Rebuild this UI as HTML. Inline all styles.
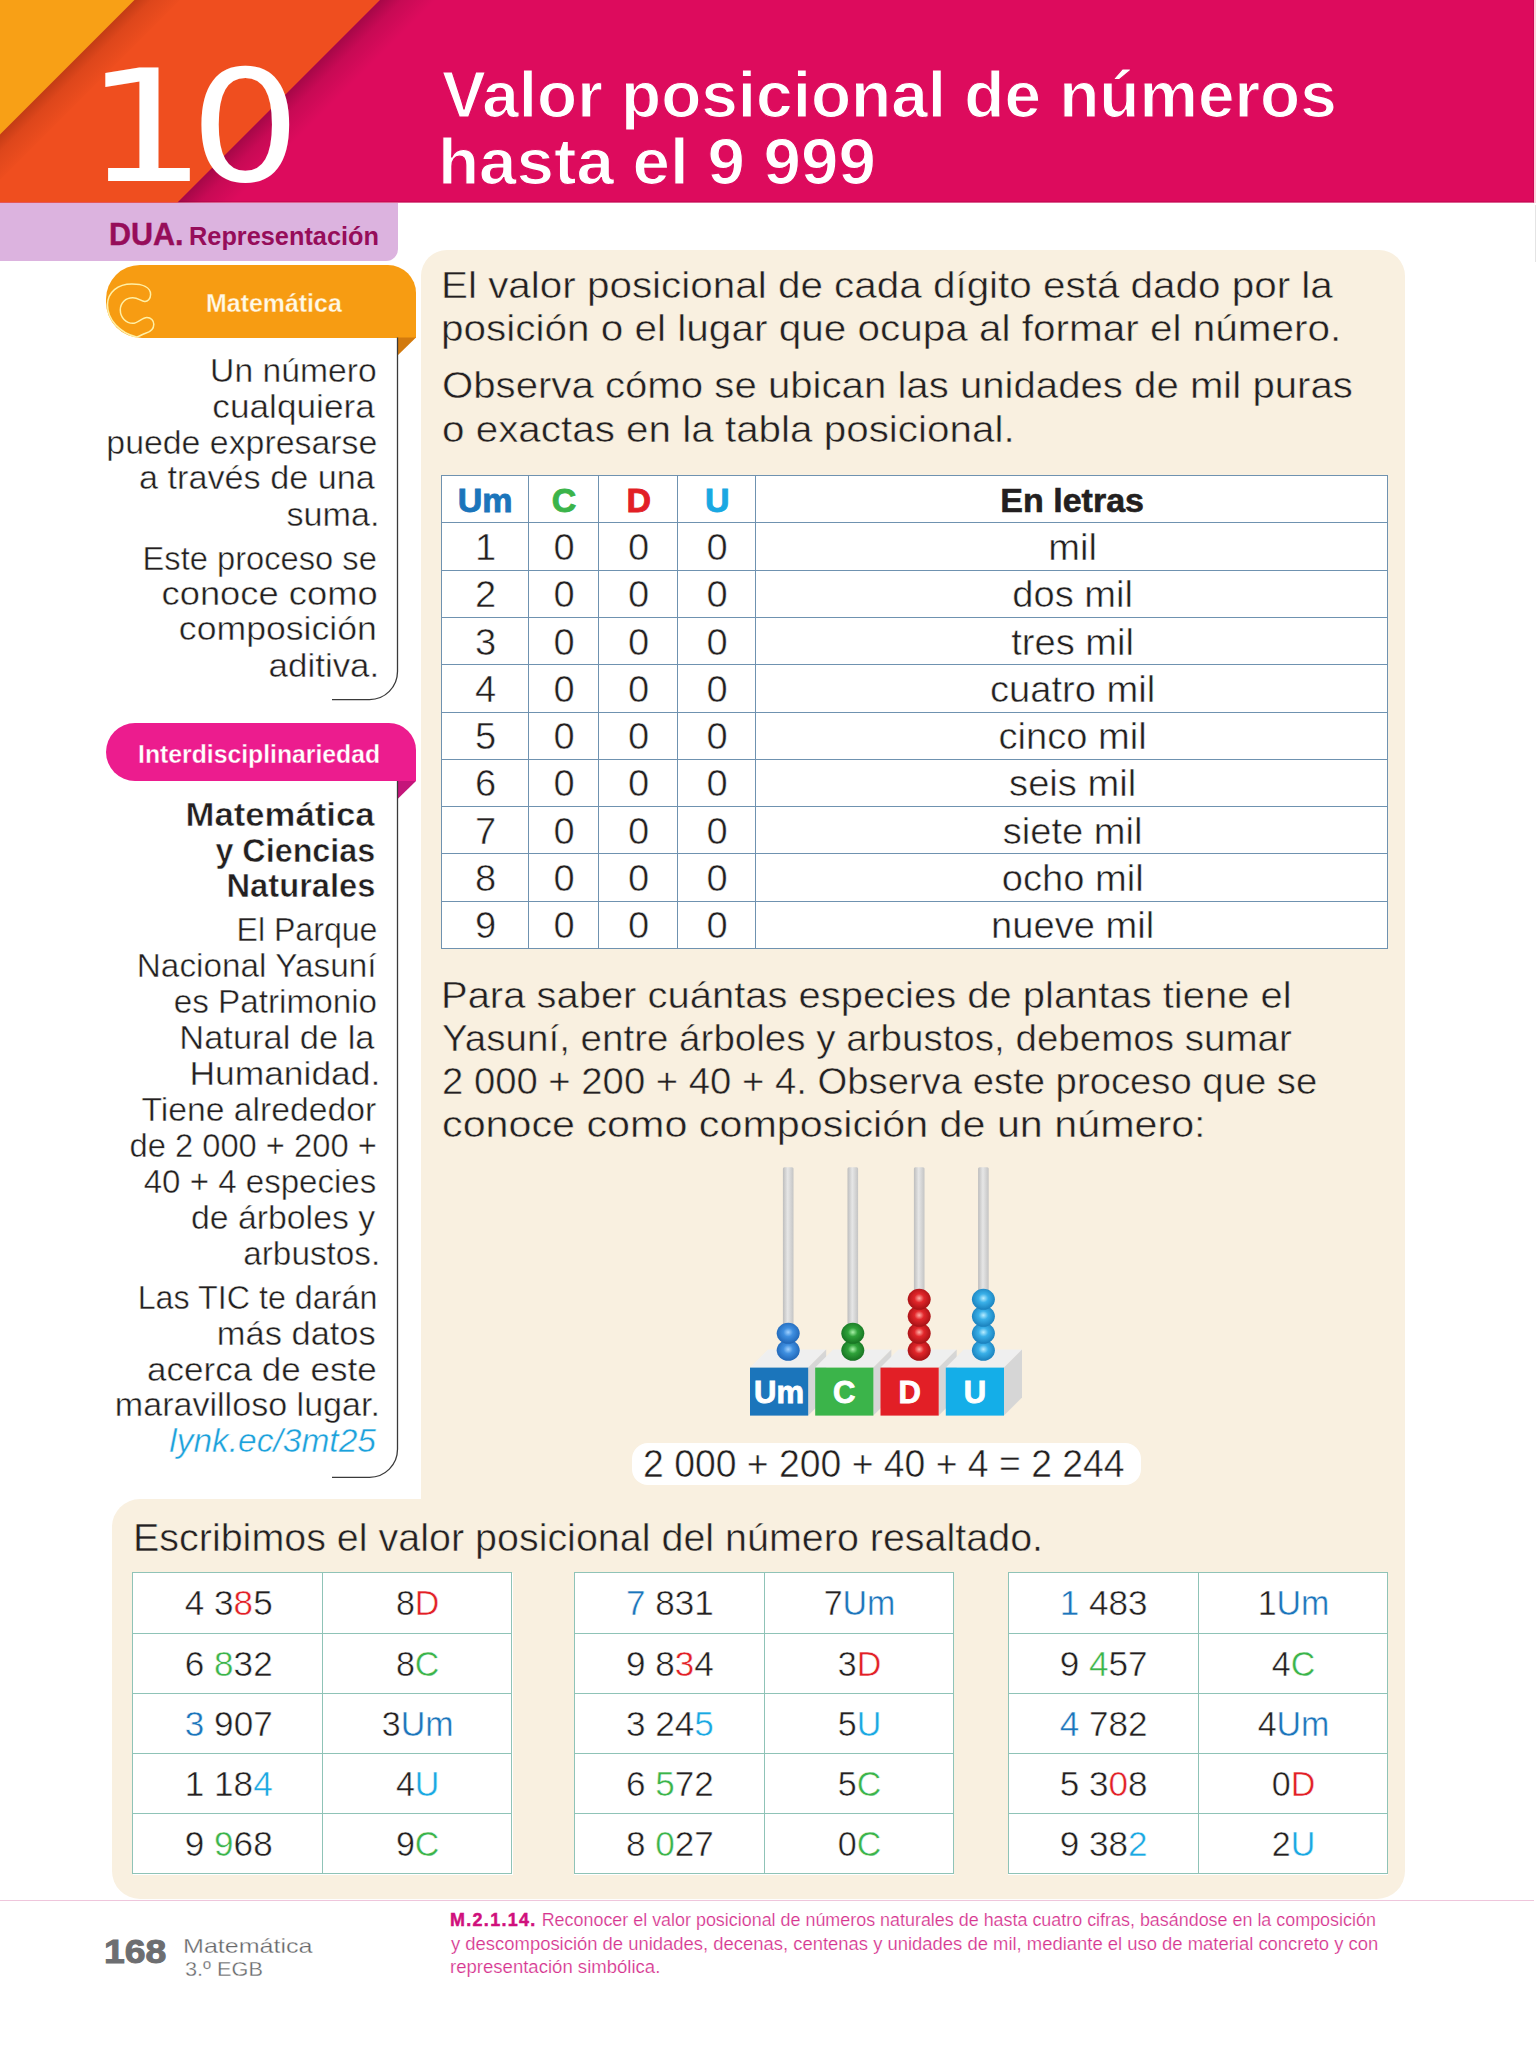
<!DOCTYPE html>
<html lang="es"><head><meta charset="utf-8"><title>Valor posicional de números hasta el 9 999</title>
<style>
html,body{margin:0;padding:0;background:#fff}
body{width:1536px;height:2048px;position:relative;overflow:hidden;font-family:'Liberation Sans', Arial, sans-serif;color:#231f20}
.t{position:absolute}
</style></head><body>
<svg style="position:absolute;left:0;top:0" width="1534" height="202.5" viewBox="0 0 1534 202.5">
<defs>
<linearGradient id="shO" gradientUnits="userSpaceOnUse" x1="67.25" y1="67.25" x2="92" y2="92"><stop offset="0" stop-color="#5a1000" stop-opacity="0.30"/><stop offset="0.35" stop-color="#5a1000" stop-opacity="0.12"/><stop offset="1" stop-color="#5a1000" stop-opacity="0"/></linearGradient>
<linearGradient id="shM" gradientUnits="userSpaceOnUse" x1="189.5" y1="189.5" x2="218" y2="218"><stop offset="0" stop-color="#400020" stop-opacity="0.36"/><stop offset="0.4" stop-color="#400020" stop-opacity="0.14"/><stop offset="1" stop-color="#400020" stop-opacity="0"/></linearGradient>
</defs>
<rect x="0" y="0" width="1534" height="202.5" fill="#dd0b5d"/>
<rect x="0" y="201.2" width="1534" height="1.3" fill="#b3094c" opacity="0.55"/>
<rect x="1533" y="0" width="1" height="202.5" fill="#b3094c" opacity="0.5"/>
<polygon points="0,0 380,0 177.5,202.5 0,202.5" fill="#ef4e1f"/>
<polygon points="380,0 177.5,202.5 260,202.5 460,0" fill="url(#shM)"/>
<polygon points="0,0 134.5,0 0,134.5" fill="#f8a016"/>
<polygon points="134.5,0 0,134.5 0,180 180,0" fill="url(#shO)"/>
</svg>
<div style="position:absolute;left:1534px;top:0;width:2px;height:203px;background:#fbd3dd"></div>
<div style="position:absolute;left:1535px;top:205px;width:1px;height:57px;background:#e4e4e4"></div>
<!-- DUA bar -->
<div style="position:absolute;left:0;top:202.5px;width:398px;height:58px;background:#dcb3df;border-bottom-right-radius:12px"></div>
<!-- beige panels -->
<div style="position:absolute;left:421.4px;top:250.3px;width:983.6px;height:1400px;background:#f9f0e0;border-radius:26px 26px 0 0"></div>
<div style="position:absolute;left:111.5px;top:1499px;width:1293.5px;height:399.5px;background:#f9f0e0;border-radius:28px 0 28px 28px"></div>
<!-- white sidebar bg covering -->
<div style="position:absolute;left:0;top:262px;width:421.4px;height:1237px;background:#fff"></div>
<!-- card 1 -->
<!-- orange tab -->
<div style="position:absolute;left:106px;top:265px;width:310px;height:72.6px;background:#f79c12;border-radius:34px 28px 0 36px"></div>
<svg style="position:absolute;left:0;top:0" width="430" height="1500" viewBox="0 0 430 1500">
<polygon points="397.3,337.6 416,337.6 397.3,355.8" fill="#d27a0e"/>
<polygon points="397.1,781.1 416,781.1 397.1,799.6" fill="#c4157a"/>
<path d="M397.5,337.6 V671.6 A28,28 0 0 1 369.5,699.6 H332" fill="none" stroke="#3a3a3a" stroke-width="1.3"/>
<path d="M397.5,781.1 V1449.3 A28,28 0 0 1 369.5,1477.3 H332" fill="none" stroke="#3a3a3a" stroke-width="1.3"/>
<path transform="translate(100,275)" d="M36.5,62 C20,58 7.5,45 7.5,30 C7.5,17 18,9.1 31.9,9.1 C42,9.1 50.6,12 50.6,19.5 C50.6,24 47.5,26.6 44.7,26.4 C41,26 38,22.8 32.8,22.8 C25.5,22.8 20.3,28 20.3,35 C20.3,42.5 26,48.3 32.8,48.3 C38,48.3 42,42.4 46.9,42.4 C51,42.4 53.8,45.5 53.8,49.2 C53.8,54 50,57 45.6,58.3 C42,59.5 39,61.5 36.5,62" fill="none" stroke="#fff0a6" stroke-width="1.5"/>
</svg>
<!-- card 2 -->
<div style="position:absolute;left:106px;top:723.1px;width:310px;height:58px;background:#ec1c8e;border-radius:30px 28px 0 30px"></div>
<!-- ten -->
<div class="t" style="position:absolute;left:84.1px;top:51.3px;font-size:154.4px;line-height:154.4px;font-family:'DejaVu Sans',sans-serif;color:#fff;transform:scaleX(1.26);transform-origin:0 0">1</div>
<div class="t" style="position:absolute;left:189.9px;top:51.3px;font-size:154.4px;line-height:154.4px;font-family:'DejaVu Sans',sans-serif;color:#fff;transform:scaleX(1.127);transform-origin:0 0">0</div>
<!-- main table bg -->
<div style="position:absolute;left:441.6px;top:476.2px;width:946.2px;height:473px;background:#fff"></div>
<div style="position:absolute;left:441px;top:475px;width:1.3px;height:474.3px;background:#6f92b0"></div>
<div style="position:absolute;left:528px;top:475px;width:1.3px;height:474.3px;background:#6f92b0"></div>
<div style="position:absolute;left:598px;top:475px;width:1.3px;height:474.3px;background:#6f92b0"></div>
<div style="position:absolute;left:677px;top:475px;width:1.3px;height:474.3px;background:#6f92b0"></div>
<div style="position:absolute;left:755px;top:475px;width:1.3px;height:474.3px;background:#6f92b0"></div>
<div style="position:absolute;left:1387px;top:475px;width:1.3px;height:474.3px;background:#6f92b0"></div>
<div style="position:absolute;left:441px;top:475px;width:947.3px;height:1.3px;background:#6f92b0"></div>
<div style="position:absolute;left:441px;top:522px;width:947.3px;height:1.3px;background:#6f92b0"></div>
<div style="position:absolute;left:441px;top:570px;width:947.3px;height:1.3px;background:#6f92b0"></div>
<div style="position:absolute;left:441px;top:617px;width:947.3px;height:1.3px;background:#6f92b0"></div>
<div style="position:absolute;left:441px;top:664px;width:947.3px;height:1.3px;background:#6f92b0"></div>
<div style="position:absolute;left:441px;top:712px;width:947.3px;height:1.3px;background:#6f92b0"></div>
<div style="position:absolute;left:441px;top:759px;width:947.3px;height:1.3px;background:#6f92b0"></div>
<div style="position:absolute;left:441px;top:806px;width:947.3px;height:1.3px;background:#6f92b0"></div>
<div style="position:absolute;left:441px;top:853px;width:947.3px;height:1.3px;background:#6f92b0"></div>
<div style="position:absolute;left:441px;top:901px;width:947.3px;height:1.3px;background:#6f92b0"></div>
<div style="position:absolute;left:441px;top:948px;width:947.3px;height:1.3px;background:#6f92b0"></div>
<div class="t c" style="position:absolute;left:441.60px;width:87.20px;top:483.07px;text-align:center;font-size:34px;line-height:34px;font-weight:700;color:#1b75bb;font-family:'Liberation Sans', Arial, sans-serif;white-space:nowrap;-webkit-text-stroke:0.9px #1b75bb;">Um</div>
<div class="t c" style="position:absolute;left:528.80px;width:70.40px;top:483.07px;text-align:center;font-size:34px;line-height:34px;font-weight:700;color:#3bb44a;font-family:'Liberation Sans', Arial, sans-serif;white-space:nowrap;-webkit-text-stroke:0.9px #3bb44a;">C</div>
<div class="t c" style="position:absolute;left:599.20px;width:79.00px;top:483.07px;text-align:center;font-size:34px;line-height:34px;font-weight:700;color:#e21f26;font-family:'Liberation Sans', Arial, sans-serif;white-space:nowrap;-webkit-text-stroke:0.9px #e21f26;">D</div>
<div class="t c" style="position:absolute;left:678.20px;width:78.30px;top:483.07px;text-align:center;font-size:34px;line-height:34px;font-weight:700;color:#19a8e2;font-family:'Liberation Sans', Arial, sans-serif;white-space:nowrap;-webkit-text-stroke:0.9px #19a8e2;">U</div>
<div class="t c" style="position:absolute;left:756.50px;width:631.30px;top:482.92px;text-align:center;font-size:34px;line-height:34px;font-weight:700;color:#231f20;font-family:'Liberation Sans', Arial, sans-serif;white-space:nowrap;-webkit-text-stroke:0.6px #231f20;">En letras</div>
<div class="t c" style="position:absolute;left:441.60px;width:87.20px;top:529.92px;text-align:center;font-size:36.3px;line-height:36.3px;font-weight:400;color:#231f20;font-family:'Liberation Sans', Arial, sans-serif;white-space:nowrap;transform:scaleX(1.05);transform-origin:50% 0;-webkit-text-stroke:0.5px #fff;">1</div>
<div class="t c" style="position:absolute;left:528.80px;width:70.40px;top:529.92px;text-align:center;font-size:36.3px;line-height:36.3px;font-weight:400;color:#231f20;font-family:'Liberation Sans', Arial, sans-serif;white-space:nowrap;transform:scaleX(1.05);transform-origin:50% 0;-webkit-text-stroke:0.5px #fff;">0</div>
<div class="t c" style="position:absolute;left:599.20px;width:79.00px;top:529.92px;text-align:center;font-size:36.3px;line-height:36.3px;font-weight:400;color:#231f20;font-family:'Liberation Sans', Arial, sans-serif;white-space:nowrap;transform:scaleX(1.05);transform-origin:50% 0;-webkit-text-stroke:0.5px #fff;">0</div>
<div class="t c" style="position:absolute;left:678.20px;width:78.30px;top:529.92px;text-align:center;font-size:36.3px;line-height:36.3px;font-weight:400;color:#231f20;font-family:'Liberation Sans', Arial, sans-serif;white-space:nowrap;transform:scaleX(1.05);transform-origin:50% 0;-webkit-text-stroke:0.5px #fff;">0</div>
<div class="t c" style="position:absolute;left:756.50px;width:631.30px;top:529.92px;text-align:center;font-size:36.3px;line-height:36.3px;font-weight:400;color:#231f20;font-family:'Liberation Sans', Arial, sans-serif;white-space:nowrap;transform:scaleX(1.05);transform-origin:50% 0;-webkit-text-stroke:0.5px #fff;">mil</div>
<div class="t c" style="position:absolute;left:441.60px;width:87.20px;top:577.22px;text-align:center;font-size:36.3px;line-height:36.3px;font-weight:400;color:#231f20;font-family:'Liberation Sans', Arial, sans-serif;white-space:nowrap;transform:scaleX(1.05);transform-origin:50% 0;-webkit-text-stroke:0.5px #fff;">2</div>
<div class="t c" style="position:absolute;left:528.80px;width:70.40px;top:577.22px;text-align:center;font-size:36.3px;line-height:36.3px;font-weight:400;color:#231f20;font-family:'Liberation Sans', Arial, sans-serif;white-space:nowrap;transform:scaleX(1.05);transform-origin:50% 0;-webkit-text-stroke:0.5px #fff;">0</div>
<div class="t c" style="position:absolute;left:599.20px;width:79.00px;top:577.22px;text-align:center;font-size:36.3px;line-height:36.3px;font-weight:400;color:#231f20;font-family:'Liberation Sans', Arial, sans-serif;white-space:nowrap;transform:scaleX(1.05);transform-origin:50% 0;-webkit-text-stroke:0.5px #fff;">0</div>
<div class="t c" style="position:absolute;left:678.20px;width:78.30px;top:577.22px;text-align:center;font-size:36.3px;line-height:36.3px;font-weight:400;color:#231f20;font-family:'Liberation Sans', Arial, sans-serif;white-space:nowrap;transform:scaleX(1.05);transform-origin:50% 0;-webkit-text-stroke:0.5px #fff;">0</div>
<div class="t c" style="position:absolute;left:756.50px;width:631.30px;top:577.22px;text-align:center;font-size:36.3px;line-height:36.3px;font-weight:400;color:#231f20;font-family:'Liberation Sans', Arial, sans-serif;white-space:nowrap;transform:scaleX(1.05);transform-origin:50% 0;-webkit-text-stroke:0.5px #fff;">dos mil</div>
<div class="t c" style="position:absolute;left:441.60px;width:87.20px;top:624.52px;text-align:center;font-size:36.3px;line-height:36.3px;font-weight:400;color:#231f20;font-family:'Liberation Sans', Arial, sans-serif;white-space:nowrap;transform:scaleX(1.05);transform-origin:50% 0;-webkit-text-stroke:0.5px #fff;">3</div>
<div class="t c" style="position:absolute;left:528.80px;width:70.40px;top:624.52px;text-align:center;font-size:36.3px;line-height:36.3px;font-weight:400;color:#231f20;font-family:'Liberation Sans', Arial, sans-serif;white-space:nowrap;transform:scaleX(1.05);transform-origin:50% 0;-webkit-text-stroke:0.5px #fff;">0</div>
<div class="t c" style="position:absolute;left:599.20px;width:79.00px;top:624.52px;text-align:center;font-size:36.3px;line-height:36.3px;font-weight:400;color:#231f20;font-family:'Liberation Sans', Arial, sans-serif;white-space:nowrap;transform:scaleX(1.05);transform-origin:50% 0;-webkit-text-stroke:0.5px #fff;">0</div>
<div class="t c" style="position:absolute;left:678.20px;width:78.30px;top:624.52px;text-align:center;font-size:36.3px;line-height:36.3px;font-weight:400;color:#231f20;font-family:'Liberation Sans', Arial, sans-serif;white-space:nowrap;transform:scaleX(1.05);transform-origin:50% 0;-webkit-text-stroke:0.5px #fff;">0</div>
<div class="t c" style="position:absolute;left:756.50px;width:631.30px;top:624.52px;text-align:center;font-size:36.3px;line-height:36.3px;font-weight:400;color:#231f20;font-family:'Liberation Sans', Arial, sans-serif;white-space:nowrap;transform:scaleX(1.05);transform-origin:50% 0;-webkit-text-stroke:0.5px #fff;">tres mil</div>
<div class="t c" style="position:absolute;left:441.60px;width:87.20px;top:671.82px;text-align:center;font-size:36.3px;line-height:36.3px;font-weight:400;color:#231f20;font-family:'Liberation Sans', Arial, sans-serif;white-space:nowrap;transform:scaleX(1.05);transform-origin:50% 0;-webkit-text-stroke:0.5px #fff;">4</div>
<div class="t c" style="position:absolute;left:528.80px;width:70.40px;top:671.82px;text-align:center;font-size:36.3px;line-height:36.3px;font-weight:400;color:#231f20;font-family:'Liberation Sans', Arial, sans-serif;white-space:nowrap;transform:scaleX(1.05);transform-origin:50% 0;-webkit-text-stroke:0.5px #fff;">0</div>
<div class="t c" style="position:absolute;left:599.20px;width:79.00px;top:671.82px;text-align:center;font-size:36.3px;line-height:36.3px;font-weight:400;color:#231f20;font-family:'Liberation Sans', Arial, sans-serif;white-space:nowrap;transform:scaleX(1.05);transform-origin:50% 0;-webkit-text-stroke:0.5px #fff;">0</div>
<div class="t c" style="position:absolute;left:678.20px;width:78.30px;top:671.82px;text-align:center;font-size:36.3px;line-height:36.3px;font-weight:400;color:#231f20;font-family:'Liberation Sans', Arial, sans-serif;white-space:nowrap;transform:scaleX(1.05);transform-origin:50% 0;-webkit-text-stroke:0.5px #fff;">0</div>
<div class="t c" style="position:absolute;left:756.50px;width:631.30px;top:671.82px;text-align:center;font-size:36.3px;line-height:36.3px;font-weight:400;color:#231f20;font-family:'Liberation Sans', Arial, sans-serif;white-space:nowrap;transform:scaleX(1.05);transform-origin:50% 0;-webkit-text-stroke:0.5px #fff;">cuatro mil</div>
<div class="t c" style="position:absolute;left:441.60px;width:87.20px;top:719.12px;text-align:center;font-size:36.3px;line-height:36.3px;font-weight:400;color:#231f20;font-family:'Liberation Sans', Arial, sans-serif;white-space:nowrap;transform:scaleX(1.05);transform-origin:50% 0;-webkit-text-stroke:0.5px #fff;">5</div>
<div class="t c" style="position:absolute;left:528.80px;width:70.40px;top:719.12px;text-align:center;font-size:36.3px;line-height:36.3px;font-weight:400;color:#231f20;font-family:'Liberation Sans', Arial, sans-serif;white-space:nowrap;transform:scaleX(1.05);transform-origin:50% 0;-webkit-text-stroke:0.5px #fff;">0</div>
<div class="t c" style="position:absolute;left:599.20px;width:79.00px;top:719.12px;text-align:center;font-size:36.3px;line-height:36.3px;font-weight:400;color:#231f20;font-family:'Liberation Sans', Arial, sans-serif;white-space:nowrap;transform:scaleX(1.05);transform-origin:50% 0;-webkit-text-stroke:0.5px #fff;">0</div>
<div class="t c" style="position:absolute;left:678.20px;width:78.30px;top:719.12px;text-align:center;font-size:36.3px;line-height:36.3px;font-weight:400;color:#231f20;font-family:'Liberation Sans', Arial, sans-serif;white-space:nowrap;transform:scaleX(1.05);transform-origin:50% 0;-webkit-text-stroke:0.5px #fff;">0</div>
<div class="t c" style="position:absolute;left:756.50px;width:631.30px;top:719.12px;text-align:center;font-size:36.3px;line-height:36.3px;font-weight:400;color:#231f20;font-family:'Liberation Sans', Arial, sans-serif;white-space:nowrap;transform:scaleX(1.05);transform-origin:50% 0;-webkit-text-stroke:0.5px #fff;">cinco mil</div>
<div class="t c" style="position:absolute;left:441.60px;width:87.20px;top:766.42px;text-align:center;font-size:36.3px;line-height:36.3px;font-weight:400;color:#231f20;font-family:'Liberation Sans', Arial, sans-serif;white-space:nowrap;transform:scaleX(1.05);transform-origin:50% 0;-webkit-text-stroke:0.5px #fff;">6</div>
<div class="t c" style="position:absolute;left:528.80px;width:70.40px;top:766.42px;text-align:center;font-size:36.3px;line-height:36.3px;font-weight:400;color:#231f20;font-family:'Liberation Sans', Arial, sans-serif;white-space:nowrap;transform:scaleX(1.05);transform-origin:50% 0;-webkit-text-stroke:0.5px #fff;">0</div>
<div class="t c" style="position:absolute;left:599.20px;width:79.00px;top:766.42px;text-align:center;font-size:36.3px;line-height:36.3px;font-weight:400;color:#231f20;font-family:'Liberation Sans', Arial, sans-serif;white-space:nowrap;transform:scaleX(1.05);transform-origin:50% 0;-webkit-text-stroke:0.5px #fff;">0</div>
<div class="t c" style="position:absolute;left:678.20px;width:78.30px;top:766.42px;text-align:center;font-size:36.3px;line-height:36.3px;font-weight:400;color:#231f20;font-family:'Liberation Sans', Arial, sans-serif;white-space:nowrap;transform:scaleX(1.05);transform-origin:50% 0;-webkit-text-stroke:0.5px #fff;">0</div>
<div class="t c" style="position:absolute;left:756.50px;width:631.30px;top:766.42px;text-align:center;font-size:36.3px;line-height:36.3px;font-weight:400;color:#231f20;font-family:'Liberation Sans', Arial, sans-serif;white-space:nowrap;transform:scaleX(1.05);transform-origin:50% 0;-webkit-text-stroke:0.5px #fff;">seis mil</div>
<div class="t c" style="position:absolute;left:441.60px;width:87.20px;top:813.72px;text-align:center;font-size:36.3px;line-height:36.3px;font-weight:400;color:#231f20;font-family:'Liberation Sans', Arial, sans-serif;white-space:nowrap;transform:scaleX(1.05);transform-origin:50% 0;-webkit-text-stroke:0.5px #fff;">7</div>
<div class="t c" style="position:absolute;left:528.80px;width:70.40px;top:813.72px;text-align:center;font-size:36.3px;line-height:36.3px;font-weight:400;color:#231f20;font-family:'Liberation Sans', Arial, sans-serif;white-space:nowrap;transform:scaleX(1.05);transform-origin:50% 0;-webkit-text-stroke:0.5px #fff;">0</div>
<div class="t c" style="position:absolute;left:599.20px;width:79.00px;top:813.72px;text-align:center;font-size:36.3px;line-height:36.3px;font-weight:400;color:#231f20;font-family:'Liberation Sans', Arial, sans-serif;white-space:nowrap;transform:scaleX(1.05);transform-origin:50% 0;-webkit-text-stroke:0.5px #fff;">0</div>
<div class="t c" style="position:absolute;left:678.20px;width:78.30px;top:813.72px;text-align:center;font-size:36.3px;line-height:36.3px;font-weight:400;color:#231f20;font-family:'Liberation Sans', Arial, sans-serif;white-space:nowrap;transform:scaleX(1.05);transform-origin:50% 0;-webkit-text-stroke:0.5px #fff;">0</div>
<div class="t c" style="position:absolute;left:756.50px;width:631.30px;top:813.72px;text-align:center;font-size:36.3px;line-height:36.3px;font-weight:400;color:#231f20;font-family:'Liberation Sans', Arial, sans-serif;white-space:nowrap;transform:scaleX(1.05);transform-origin:50% 0;-webkit-text-stroke:0.5px #fff;">siete mil</div>
<div class="t c" style="position:absolute;left:441.60px;width:87.20px;top:861.02px;text-align:center;font-size:36.3px;line-height:36.3px;font-weight:400;color:#231f20;font-family:'Liberation Sans', Arial, sans-serif;white-space:nowrap;transform:scaleX(1.05);transform-origin:50% 0;-webkit-text-stroke:0.5px #fff;">8</div>
<div class="t c" style="position:absolute;left:528.80px;width:70.40px;top:861.02px;text-align:center;font-size:36.3px;line-height:36.3px;font-weight:400;color:#231f20;font-family:'Liberation Sans', Arial, sans-serif;white-space:nowrap;transform:scaleX(1.05);transform-origin:50% 0;-webkit-text-stroke:0.5px #fff;">0</div>
<div class="t c" style="position:absolute;left:599.20px;width:79.00px;top:861.02px;text-align:center;font-size:36.3px;line-height:36.3px;font-weight:400;color:#231f20;font-family:'Liberation Sans', Arial, sans-serif;white-space:nowrap;transform:scaleX(1.05);transform-origin:50% 0;-webkit-text-stroke:0.5px #fff;">0</div>
<div class="t c" style="position:absolute;left:678.20px;width:78.30px;top:861.02px;text-align:center;font-size:36.3px;line-height:36.3px;font-weight:400;color:#231f20;font-family:'Liberation Sans', Arial, sans-serif;white-space:nowrap;transform:scaleX(1.05);transform-origin:50% 0;-webkit-text-stroke:0.5px #fff;">0</div>
<div class="t c" style="position:absolute;left:756.50px;width:631.30px;top:861.02px;text-align:center;font-size:36.3px;line-height:36.3px;font-weight:400;color:#231f20;font-family:'Liberation Sans', Arial, sans-serif;white-space:nowrap;transform:scaleX(1.05);transform-origin:50% 0;-webkit-text-stroke:0.5px #fff;">ocho mil</div>
<div class="t c" style="position:absolute;left:441.60px;width:87.20px;top:908.32px;text-align:center;font-size:36.3px;line-height:36.3px;font-weight:400;color:#231f20;font-family:'Liberation Sans', Arial, sans-serif;white-space:nowrap;transform:scaleX(1.05);transform-origin:50% 0;-webkit-text-stroke:0.5px #fff;">9</div>
<div class="t c" style="position:absolute;left:528.80px;width:70.40px;top:908.32px;text-align:center;font-size:36.3px;line-height:36.3px;font-weight:400;color:#231f20;font-family:'Liberation Sans', Arial, sans-serif;white-space:nowrap;transform:scaleX(1.05);transform-origin:50% 0;-webkit-text-stroke:0.5px #fff;">0</div>
<div class="t c" style="position:absolute;left:599.20px;width:79.00px;top:908.32px;text-align:center;font-size:36.3px;line-height:36.3px;font-weight:400;color:#231f20;font-family:'Liberation Sans', Arial, sans-serif;white-space:nowrap;transform:scaleX(1.05);transform-origin:50% 0;-webkit-text-stroke:0.5px #fff;">0</div>
<div class="t c" style="position:absolute;left:678.20px;width:78.30px;top:908.32px;text-align:center;font-size:36.3px;line-height:36.3px;font-weight:400;color:#231f20;font-family:'Liberation Sans', Arial, sans-serif;white-space:nowrap;transform:scaleX(1.05);transform-origin:50% 0;-webkit-text-stroke:0.5px #fff;">0</div>
<div class="t c" style="position:absolute;left:756.50px;width:631.30px;top:908.32px;text-align:center;font-size:36.3px;line-height:36.3px;font-weight:400;color:#231f20;font-family:'Liberation Sans', Arial, sans-serif;white-space:nowrap;transform:scaleX(1.05);transform-origin:50% 0;-webkit-text-stroke:0.5px #fff;">nueve mil</div>
<!-- equation pill -->
<div style="position:absolute;left:632px;top:1443.4px;width:508.8px;height:41.6px;background:#fff;border-radius:16px"></div>
<svg style="position:absolute;left:0;top:0" width="1536" height="2048" viewBox="0 0 1536 2048">
<defs>
<linearGradient id="rod" x1="0" x2="1" y1="0" y2="0"><stop offset="0" stop-color="#bdbdbd"/><stop offset="0.45" stop-color="#e6e6e6"/><stop offset="1" stop-color="#c4c4c4"/></linearGradient>
<radialGradient id="bB" cx="0.5" cy="0.45" r="0.6"><stop offset="0" stop-color="#9fd0ff"/><stop offset="0.35" stop-color="#3f8fe0"/><stop offset="1" stop-color="#1a5fb0"/></radialGradient>
<radialGradient id="bG" cx="0.5" cy="0.45" r="0.6"><stop offset="0" stop-color="#a8f0a8"/><stop offset="0.35" stop-color="#2fa23a"/><stop offset="1" stop-color="#136b1e"/></radialGradient>
<radialGradient id="bR" cx="0.5" cy="0.45" r="0.6"><stop offset="0" stop-color="#ffb0a8"/><stop offset="0.35" stop-color="#e1262a"/><stop offset="1" stop-color="#9c0e12"/></radialGradient>
<radialGradient id="bC" cx="0.5" cy="0.45" r="0.6"><stop offset="0" stop-color="#b8ecff"/><stop offset="0.35" stop-color="#3ab0e8"/><stop offset="1" stop-color="#1478b5"/></radialGradient>
</defs>
<polygon points="750,1367.6 768,1349.6 826.2,1349.6 808.2,1367.6" fill="#efefef"/>
<polygon points="808.2,1367.6 826.2,1349.6 826.2,1397.6 808.2,1415.6" fill="#d6d6d6"/>
<polygon points="815.2,1367.6 833.2,1349.6 891.4000000000001,1349.6 873.4000000000001,1367.6" fill="#efefef"/>
<polygon points="873.4000000000001,1367.6 891.4000000000001,1349.6 891.4000000000001,1397.6 873.4000000000001,1415.6" fill="#d6d6d6"/>
<polygon points="880.5,1367.6 898.5,1349.6 956.7,1349.6 938.7,1367.6" fill="#efefef"/>
<polygon points="938.7,1367.6 956.7,1349.6 956.7,1397.6 938.7,1415.6" fill="#d6d6d6"/>
<polygon points="945.8,1367.6 963.8,1349.6 1022.0,1349.6 1004.0,1367.6" fill="#efefef"/>
<polygon points="1004.0,1367.6 1022.0,1349.6 1022.0,1397.6 1004.0,1415.6" fill="#d6d6d6"/>
<rect x="782.9000000000001" y="1167.3" width="10.6" height="192.70000000000005" rx="1.5" fill="url(#rod)"/>
<rect x="847.5" y="1167.3" width="10.6" height="192.70000000000005" rx="1.5" fill="url(#rod)"/>
<rect x="913.9000000000001" y="1167.3" width="10.6" height="192.70000000000005" rx="1.5" fill="url(#rod)"/>
<rect x="978.1" y="1167.3" width="10.6" height="192.70000000000005" rx="1.5" fill="url(#rod)"/>
<ellipse cx="788.2" cy="1350.3" rx="11.5" ry="10.5" fill="url(#bB)"/>
<ellipse cx="788.2" cy="1333.3" rx="11.5" ry="10.5" fill="url(#bB)"/>
<ellipse cx="852.8" cy="1350.3" rx="11.5" ry="10.5" fill="url(#bG)"/>
<ellipse cx="852.8" cy="1333.3" rx="11.5" ry="10.5" fill="url(#bG)"/>
<ellipse cx="919.2" cy="1350.3" rx="11.5" ry="10.5" fill="url(#bR)"/>
<ellipse cx="919.2" cy="1333.3" rx="11.5" ry="10.5" fill="url(#bR)"/>
<ellipse cx="919.2" cy="1316.3" rx="11.5" ry="10.5" fill="url(#bR)"/>
<ellipse cx="919.2" cy="1299.3" rx="11.5" ry="10.5" fill="url(#bR)"/>
<ellipse cx="983.4" cy="1350.3" rx="11.5" ry="10.5" fill="url(#bC)"/>
<ellipse cx="983.4" cy="1333.3" rx="11.5" ry="10.5" fill="url(#bC)"/>
<ellipse cx="983.4" cy="1316.3" rx="11.5" ry="10.5" fill="url(#bC)"/>
<ellipse cx="983.4" cy="1299.3" rx="11.5" ry="10.5" fill="url(#bC)"/>
<rect x="750" y="1367.6" width="58.2" height="48.0" fill="#1b75bb"/>
<text x="779.1" y="1402.5" text-anchor="middle" font-family="Liberation Sans, Arial, sans-serif" font-weight="700" font-size="31" fill="#fff" stroke="#fff" stroke-width="0.9">Um</text>
<rect x="815.2" y="1367.6" width="58.2" height="48.0" fill="#3bb44a"/>
<text x="844.3000000000001" y="1402.5" text-anchor="middle" font-family="Liberation Sans, Arial, sans-serif" font-weight="700" font-size="31" fill="#fff" stroke="#fff" stroke-width="0.9">C</text>
<rect x="880.5" y="1367.6" width="58.2" height="48.0" fill="#e21f26"/>
<text x="909.6" y="1402.5" text-anchor="middle" font-family="Liberation Sans, Arial, sans-serif" font-weight="700" font-size="31" fill="#fff" stroke="#fff" stroke-width="0.9">D</text>
<rect x="945.8" y="1367.6" width="58.2" height="48.0" fill="#14aee8"/>
<text x="974.9" y="1402.5" text-anchor="middle" font-family="Liberation Sans, Arial, sans-serif" font-weight="700" font-size="31" fill="#fff" stroke="#fff" stroke-width="0.9">U</text>
</svg>
<div style="position:absolute;left:132.75px;top:1572.75px;width:380.30px;height:302.00px;background:#fff"></div>
<div style="position:absolute;left:132px;top:1572px;width:1.3px;height:302.3px;background:#8fc3b7"></div>
<div style="position:absolute;left:322px;top:1572px;width:1.3px;height:302.3px;background:#8fc3b7"></div>
<div style="position:absolute;left:511px;top:1572px;width:1.3px;height:302.3px;background:#8fc3b7"></div>
<div style="position:absolute;left:132px;top:1572px;width:380.3px;height:1.3px;background:#8fc3b7"></div>
<div style="position:absolute;left:132px;top:1633px;width:380.3px;height:1.3px;background:#8fc3b7"></div>
<div style="position:absolute;left:132px;top:1693px;width:380.3px;height:1.3px;background:#8fc3b7"></div>
<div style="position:absolute;left:132px;top:1753px;width:380.3px;height:1.3px;background:#8fc3b7"></div>
<div style="position:absolute;left:132px;top:1813px;width:380.3px;height:1.3px;background:#8fc3b7"></div>
<div style="position:absolute;left:132px;top:1873px;width:380.3px;height:1.3px;background:#8fc3b7"></div>
<div class="t c" style="position:absolute;left:133.50px;width:189.50px;top:1586.45px;text-align:center;font-size:35.8px;line-height:35.8px;font-weight:400;color:#231f20;font-family:'Liberation Sans', Arial, sans-serif;white-space:nowrap;transform:scaleX(0.98);transform-origin:50% 0;-webkit-text-stroke:0.5px #fff;">4 3<span style="color:#e21f26">8</span>5</div>
<div class="t c" style="position:absolute;left:323.00px;width:189.30px;top:1586.45px;text-align:center;font-size:35.8px;line-height:35.8px;font-weight:400;color:#231f20;font-family:'Liberation Sans', Arial, sans-serif;white-space:nowrap;transform:scaleX(0.95);transform-origin:50% 0;-webkit-text-stroke:0.5px #fff;">8<span style="color:#e21f26">D</span></div>
<div class="t c" style="position:absolute;left:133.50px;width:189.50px;top:1646.65px;text-align:center;font-size:35.8px;line-height:35.8px;font-weight:400;color:#231f20;font-family:'Liberation Sans', Arial, sans-serif;white-space:nowrap;transform:scaleX(0.98);transform-origin:50% 0;-webkit-text-stroke:0.5px #fff;">6 <span style="color:#3bb44a">8</span>32</div>
<div class="t c" style="position:absolute;left:323.00px;width:189.30px;top:1646.65px;text-align:center;font-size:35.8px;line-height:35.8px;font-weight:400;color:#231f20;font-family:'Liberation Sans', Arial, sans-serif;white-space:nowrap;transform:scaleX(0.95);transform-origin:50% 0;-webkit-text-stroke:0.5px #fff;">8<span style="color:#3bb44a">C</span></div>
<div class="t c" style="position:absolute;left:133.50px;width:189.50px;top:1706.95px;text-align:center;font-size:35.8px;line-height:35.8px;font-weight:400;color:#231f20;font-family:'Liberation Sans', Arial, sans-serif;white-space:nowrap;transform:scaleX(0.98);transform-origin:50% 0;-webkit-text-stroke:0.5px #fff;"><span style="color:#1b75bb">3</span> 907</div>
<div class="t c" style="position:absolute;left:323.00px;width:189.30px;top:1706.95px;text-align:center;font-size:35.8px;line-height:35.8px;font-weight:400;color:#231f20;font-family:'Liberation Sans', Arial, sans-serif;white-space:nowrap;transform:scaleX(0.95);transform-origin:50% 0;-webkit-text-stroke:0.5px #fff;">3<span style="color:#1b75bb">Um</span></div>
<div class="t c" style="position:absolute;left:133.50px;width:189.50px;top:1766.95px;text-align:center;font-size:35.8px;line-height:35.8px;font-weight:400;color:#231f20;font-family:'Liberation Sans', Arial, sans-serif;white-space:nowrap;transform:scaleX(0.98);transform-origin:50% 0;-webkit-text-stroke:0.5px #fff;">1 18<span style="color:#19a8e2">4</span></div>
<div class="t c" style="position:absolute;left:323.00px;width:189.30px;top:1766.95px;text-align:center;font-size:35.8px;line-height:35.8px;font-weight:400;color:#231f20;font-family:'Liberation Sans', Arial, sans-serif;white-space:nowrap;transform:scaleX(0.95);transform-origin:50% 0;-webkit-text-stroke:0.5px #fff;">4<span style="color:#19a8e2">U</span></div>
<div class="t c" style="position:absolute;left:133.50px;width:189.50px;top:1826.65px;text-align:center;font-size:35.8px;line-height:35.8px;font-weight:400;color:#231f20;font-family:'Liberation Sans', Arial, sans-serif;white-space:nowrap;transform:scaleX(0.98);transform-origin:50% 0;-webkit-text-stroke:0.5px #fff;">9 <span style="color:#3bb44a">9</span>68</div>
<div class="t c" style="position:absolute;left:323.00px;width:189.30px;top:1826.65px;text-align:center;font-size:35.8px;line-height:35.8px;font-weight:400;color:#231f20;font-family:'Liberation Sans', Arial, sans-serif;white-space:nowrap;transform:scaleX(0.95);transform-origin:50% 0;-webkit-text-stroke:0.5px #fff;">9<span style="color:#3bb44a">C</span></div>
<div style="position:absolute;left:574.25px;top:1572.75px;width:380.20px;height:302.00px;background:#fff"></div>
<div style="position:absolute;left:574px;top:1572px;width:1.3px;height:302.3px;background:#8fc3b7"></div>
<div style="position:absolute;left:764px;top:1572px;width:1.3px;height:302.3px;background:#8fc3b7"></div>
<div style="position:absolute;left:953px;top:1572px;width:1.3px;height:302.3px;background:#8fc3b7"></div>
<div style="position:absolute;left:574px;top:1572px;width:380.3px;height:1.3px;background:#8fc3b7"></div>
<div style="position:absolute;left:574px;top:1633px;width:380.3px;height:1.3px;background:#8fc3b7"></div>
<div style="position:absolute;left:574px;top:1693px;width:380.3px;height:1.3px;background:#8fc3b7"></div>
<div style="position:absolute;left:574px;top:1753px;width:380.3px;height:1.3px;background:#8fc3b7"></div>
<div style="position:absolute;left:574px;top:1813px;width:380.3px;height:1.3px;background:#8fc3b7"></div>
<div style="position:absolute;left:574px;top:1873px;width:380.3px;height:1.3px;background:#8fc3b7"></div>
<div class="t c" style="position:absolute;left:575.00px;width:189.60px;top:1586.45px;text-align:center;font-size:35.8px;line-height:35.8px;font-weight:400;color:#231f20;font-family:'Liberation Sans', Arial, sans-serif;white-space:nowrap;transform:scaleX(0.98);transform-origin:50% 0;-webkit-text-stroke:0.5px #fff;"><span style="color:#1b75bb">7</span> 831</div>
<div class="t c" style="position:absolute;left:764.60px;width:189.10px;top:1586.45px;text-align:center;font-size:35.8px;line-height:35.8px;font-weight:400;color:#231f20;font-family:'Liberation Sans', Arial, sans-serif;white-space:nowrap;transform:scaleX(0.95);transform-origin:50% 0;-webkit-text-stroke:0.5px #fff;">7<span style="color:#1b75bb">Um</span></div>
<div class="t c" style="position:absolute;left:575.00px;width:189.60px;top:1646.65px;text-align:center;font-size:35.8px;line-height:35.8px;font-weight:400;color:#231f20;font-family:'Liberation Sans', Arial, sans-serif;white-space:nowrap;transform:scaleX(0.98);transform-origin:50% 0;-webkit-text-stroke:0.5px #fff;">9 8<span style="color:#e21f26">3</span>4</div>
<div class="t c" style="position:absolute;left:764.60px;width:189.10px;top:1646.65px;text-align:center;font-size:35.8px;line-height:35.8px;font-weight:400;color:#231f20;font-family:'Liberation Sans', Arial, sans-serif;white-space:nowrap;transform:scaleX(0.95);transform-origin:50% 0;-webkit-text-stroke:0.5px #fff;">3<span style="color:#e21f26">D</span></div>
<div class="t c" style="position:absolute;left:575.00px;width:189.60px;top:1706.95px;text-align:center;font-size:35.8px;line-height:35.8px;font-weight:400;color:#231f20;font-family:'Liberation Sans', Arial, sans-serif;white-space:nowrap;transform:scaleX(0.98);transform-origin:50% 0;-webkit-text-stroke:0.5px #fff;">3 24<span style="color:#19a8e2">5</span></div>
<div class="t c" style="position:absolute;left:764.60px;width:189.10px;top:1706.95px;text-align:center;font-size:35.8px;line-height:35.8px;font-weight:400;color:#231f20;font-family:'Liberation Sans', Arial, sans-serif;white-space:nowrap;transform:scaleX(0.95);transform-origin:50% 0;-webkit-text-stroke:0.5px #fff;">5<span style="color:#19a8e2">U</span></div>
<div class="t c" style="position:absolute;left:575.00px;width:189.60px;top:1766.95px;text-align:center;font-size:35.8px;line-height:35.8px;font-weight:400;color:#231f20;font-family:'Liberation Sans', Arial, sans-serif;white-space:nowrap;transform:scaleX(0.98);transform-origin:50% 0;-webkit-text-stroke:0.5px #fff;">6 <span style="color:#3bb44a">5</span>72</div>
<div class="t c" style="position:absolute;left:764.60px;width:189.10px;top:1766.95px;text-align:center;font-size:35.8px;line-height:35.8px;font-weight:400;color:#231f20;font-family:'Liberation Sans', Arial, sans-serif;white-space:nowrap;transform:scaleX(0.95);transform-origin:50% 0;-webkit-text-stroke:0.5px #fff;">5<span style="color:#3bb44a">C</span></div>
<div class="t c" style="position:absolute;left:575.00px;width:189.60px;top:1826.65px;text-align:center;font-size:35.8px;line-height:35.8px;font-weight:400;color:#231f20;font-family:'Liberation Sans', Arial, sans-serif;white-space:nowrap;transform:scaleX(0.98);transform-origin:50% 0;-webkit-text-stroke:0.5px #fff;">8 <span style="color:#3bb44a">0</span>27</div>
<div class="t c" style="position:absolute;left:764.60px;width:189.10px;top:1826.65px;text-align:center;font-size:35.8px;line-height:35.8px;font-weight:400;color:#231f20;font-family:'Liberation Sans', Arial, sans-serif;white-space:nowrap;transform:scaleX(0.95);transform-origin:50% 0;-webkit-text-stroke:0.5px #fff;">0<span style="color:#3bb44a">C</span></div>
<div style="position:absolute;left:1008.45px;top:1572.75px;width:380.00px;height:302.00px;background:#fff"></div>
<div style="position:absolute;left:1008px;top:1572px;width:1.3px;height:302.3px;background:#8fc3b7"></div>
<div style="position:absolute;left:1198px;top:1572px;width:1.3px;height:302.3px;background:#8fc3b7"></div>
<div style="position:absolute;left:1387px;top:1572px;width:1.3px;height:302.3px;background:#8fc3b7"></div>
<div style="position:absolute;left:1008px;top:1572px;width:380.3px;height:1.3px;background:#8fc3b7"></div>
<div style="position:absolute;left:1008px;top:1633px;width:380.3px;height:1.3px;background:#8fc3b7"></div>
<div style="position:absolute;left:1008px;top:1693px;width:380.3px;height:1.3px;background:#8fc3b7"></div>
<div style="position:absolute;left:1008px;top:1753px;width:380.3px;height:1.3px;background:#8fc3b7"></div>
<div style="position:absolute;left:1008px;top:1813px;width:380.3px;height:1.3px;background:#8fc3b7"></div>
<div style="position:absolute;left:1008px;top:1873px;width:380.3px;height:1.3px;background:#8fc3b7"></div>
<div class="t c" style="position:absolute;left:1009.20px;width:189.40px;top:1586.45px;text-align:center;font-size:35.8px;line-height:35.8px;font-weight:400;color:#231f20;font-family:'Liberation Sans', Arial, sans-serif;white-space:nowrap;transform:scaleX(0.98);transform-origin:50% 0;-webkit-text-stroke:0.5px #fff;"><span style="color:#1b75bb">1</span> 483</div>
<div class="t c" style="position:absolute;left:1198.60px;width:189.10px;top:1586.45px;text-align:center;font-size:35.8px;line-height:35.8px;font-weight:400;color:#231f20;font-family:'Liberation Sans', Arial, sans-serif;white-space:nowrap;transform:scaleX(0.95);transform-origin:50% 0;-webkit-text-stroke:0.5px #fff;">1<span style="color:#1b75bb">Um</span></div>
<div class="t c" style="position:absolute;left:1009.20px;width:189.40px;top:1646.65px;text-align:center;font-size:35.8px;line-height:35.8px;font-weight:400;color:#231f20;font-family:'Liberation Sans', Arial, sans-serif;white-space:nowrap;transform:scaleX(0.98);transform-origin:50% 0;-webkit-text-stroke:0.5px #fff;">9 <span style="color:#3bb44a">4</span>57</div>
<div class="t c" style="position:absolute;left:1198.60px;width:189.10px;top:1646.65px;text-align:center;font-size:35.8px;line-height:35.8px;font-weight:400;color:#231f20;font-family:'Liberation Sans', Arial, sans-serif;white-space:nowrap;transform:scaleX(0.95);transform-origin:50% 0;-webkit-text-stroke:0.5px #fff;">4<span style="color:#3bb44a">C</span></div>
<div class="t c" style="position:absolute;left:1009.20px;width:189.40px;top:1706.95px;text-align:center;font-size:35.8px;line-height:35.8px;font-weight:400;color:#231f20;font-family:'Liberation Sans', Arial, sans-serif;white-space:nowrap;transform:scaleX(0.98);transform-origin:50% 0;-webkit-text-stroke:0.5px #fff;"><span style="color:#1b75bb">4</span> 782</div>
<div class="t c" style="position:absolute;left:1198.60px;width:189.10px;top:1706.95px;text-align:center;font-size:35.8px;line-height:35.8px;font-weight:400;color:#231f20;font-family:'Liberation Sans', Arial, sans-serif;white-space:nowrap;transform:scaleX(0.95);transform-origin:50% 0;-webkit-text-stroke:0.5px #fff;">4<span style="color:#1b75bb">Um</span></div>
<div class="t c" style="position:absolute;left:1009.20px;width:189.40px;top:1766.95px;text-align:center;font-size:35.8px;line-height:35.8px;font-weight:400;color:#231f20;font-family:'Liberation Sans', Arial, sans-serif;white-space:nowrap;transform:scaleX(0.98);transform-origin:50% 0;-webkit-text-stroke:0.5px #fff;">5 3<span style="color:#e21f26">0</span>8</div>
<div class="t c" style="position:absolute;left:1198.60px;width:189.10px;top:1766.95px;text-align:center;font-size:35.8px;line-height:35.8px;font-weight:400;color:#231f20;font-family:'Liberation Sans', Arial, sans-serif;white-space:nowrap;transform:scaleX(0.95);transform-origin:50% 0;-webkit-text-stroke:0.5px #fff;">0<span style="color:#e21f26">D</span></div>
<div class="t c" style="position:absolute;left:1009.20px;width:189.40px;top:1826.65px;text-align:center;font-size:35.8px;line-height:35.8px;font-weight:400;color:#231f20;font-family:'Liberation Sans', Arial, sans-serif;white-space:nowrap;transform:scaleX(0.98);transform-origin:50% 0;-webkit-text-stroke:0.5px #fff;">9 38<span style="color:#19a8e2">2</span></div>
<div class="t c" style="position:absolute;left:1198.60px;width:189.10px;top:1826.65px;text-align:center;font-size:35.8px;line-height:35.8px;font-weight:400;color:#231f20;font-family:'Liberation Sans', Arial, sans-serif;white-space:nowrap;transform:scaleX(0.95);transform-origin:50% 0;-webkit-text-stroke:0.5px #fff;">2<span style="color:#19a8e2">U</span></div>
<!-- footer line -->
<div style="position:absolute;left:0;top:1900px;width:1534px;height:1.2px;background:#efc6dc"></div>
<div id="tt1" class="t" style="position:absolute;top:62.60px;font-size:64.5px;line-height:64.5px;font-weight:700;color:#fff;font-style:normal;font-family:'Liberation Sans', Arial, sans-serif;white-space:nowrap;left:441.98px;transform-origin:0 0;-webkit-text-stroke:1.2px #dd0b5d;transform:scaleX(1.0189);">Valor posicional de números</div>
<div id="tt2" class="t" style="position:absolute;top:129.60px;font-size:64.5px;line-height:64.5px;font-weight:700;color:#fff;font-style:normal;font-family:'Liberation Sans', Arial, sans-serif;white-space:nowrap;left:437.78px;transform-origin:0 0;-webkit-text-stroke:1.2px #dd0b5d;transform:scaleX(1.0437);">hasta el 9 999</div>
<div id="dua1" class="t" style="position:absolute;top:219.08px;font-size:30.5px;line-height:30.5px;font-weight:700;color:#960d5a;font-style:normal;font-family:'Liberation Sans', Arial, sans-serif;white-space:nowrap;left:109.00px;transform-origin:0 0;-webkit-text-stroke:0.4px #960d5a;transform:scaleX(1.0000);">DUA.</div>
<div id="dua2" class="t" style="position:absolute;top:222.89px;font-size:26px;line-height:26px;font-weight:700;color:#960d5a;font-style:normal;font-family:'Liberation Sans', Arial, sans-serif;white-space:nowrap;left:189.03px;transform-origin:0 0;transform:scaleX(0.9741);">Representación</div>
<div id="tabm" class="t" style="position:absolute;top:290.53px;font-size:25.3px;line-height:25.3px;font-weight:700;color:#fff9e6;font-style:normal;font-family:'Liberation Sans', Arial, sans-serif;white-space:nowrap;left:206.01px;transform-origin:0 0;-webkit-text-stroke:0.3px #f79c12;transform:scaleX(0.9854);">Matemática</div>
<div id="tabi" class="t" style="position:absolute;top:740.89px;font-size:26.3px;line-height:26.3px;font-weight:700;color:#fff;font-style:normal;font-family:'Liberation Sans', Arial, sans-serif;white-space:nowrap;left:138.06px;transform-origin:0 0;-webkit-text-stroke:0.3px #ec1c8e;transform:scaleX(0.9412);">Interdisciplinariedad</div>
<div id="s1_0" class="t" style="position:absolute;top:355.38px;font-size:32.9px;line-height:32.9px;font-weight:400;color:#231f20;font-style:normal;font-family:'Liberation Sans', Arial, sans-serif;white-space:nowrap;right:1158.96px;transform-origin:100% 0;-webkit-text-stroke:0.45px #fff;transform:scaleX(1.0239);">Un número</div>
<div id="s1_1" class="t" style="position:absolute;top:390.98px;font-size:32.9px;line-height:32.9px;font-weight:400;color:#231f20;font-style:normal;font-family:'Liberation Sans', Arial, sans-serif;white-space:nowrap;right:1161.04px;transform-origin:100% 0;-webkit-text-stroke:0.45px #fff;transform:scaleX(1.0702);">cualquiera</div>
<div id="s1_2" class="t" style="position:absolute;top:426.58px;font-size:32.9px;line-height:32.9px;font-weight:400;color:#231f20;font-style:normal;font-family:'Liberation Sans', Arial, sans-serif;white-space:nowrap;right:1158.96px;transform-origin:100% 0;-webkit-text-stroke:0.45px #fff;transform:scaleX(1.0292);">puede expresarse</div>
<div id="s1_3" class="t" style="position:absolute;top:462.08px;font-size:32.9px;line-height:32.9px;font-weight:400;color:#231f20;font-style:normal;font-family:'Liberation Sans', Arial, sans-serif;white-space:nowrap;right:1161.02px;transform-origin:100% 0;-webkit-text-stroke:0.45px #fff;transform:scaleX(1.0398);">a través de una</div>
<div id="s1_4" class="t" style="position:absolute;top:498.78px;font-size:32.9px;line-height:32.9px;font-weight:400;color:#231f20;font-style:normal;font-family:'Liberation Sans', Arial, sans-serif;white-space:nowrap;right:1156.51px;transform-origin:100% 0;-webkit-text-stroke:0.45px #fff;transform:scaleX(1.0395);">suma.</div>
<div id="s1_5" class="t" style="position:absolute;top:542.78px;font-size:32.9px;line-height:32.9px;font-weight:400;color:#231f20;font-style:normal;font-family:'Liberation Sans', Arial, sans-serif;white-space:nowrap;right:1159.01px;transform-origin:100% 0;-webkit-text-stroke:0.45px #fff;transform:scaleX(0.9935);">Este proceso se</div>
<div id="s1_6" class="t" style="position:absolute;top:577.98px;font-size:32.9px;line-height:32.9px;font-weight:400;color:#231f20;font-style:normal;font-family:'Liberation Sans', Arial, sans-serif;white-space:nowrap;right:1158.84px;transform-origin:100% 0;-webkit-text-stroke:0.45px #fff;transform:scaleX(1.1047);">conoce como</div>
<div id="s1_7" class="t" style="position:absolute;top:613.38px;font-size:32.9px;line-height:32.9px;font-weight:400;color:#231f20;font-style:normal;font-family:'Liberation Sans', Arial, sans-serif;white-space:nowrap;right:1158.88px;transform-origin:100% 0;-webkit-text-stroke:0.45px #fff;transform:scaleX(1.0828);">composición</div>
<div id="s1_8" class="t" style="position:absolute;top:650.28px;font-size:32.9px;line-height:32.9px;font-weight:400;color:#231f20;font-style:normal;font-family:'Liberation Sans', Arial, sans-serif;white-space:nowrap;right:1156.46px;transform-origin:100% 0;-webkit-text-stroke:0.45px #fff;transform:scaleX(1.0614);">aditiva.</div>
<div id="s2b_0" class="t" style="position:absolute;top:798.78px;font-size:32.8px;line-height:32.8px;font-weight:700;color:#231f20;font-style:normal;font-family:'Liberation Sans', Arial, sans-serif;white-space:nowrap;right:1161.40px;transform-origin:100% 0;-webkit-text-stroke:0.5px #fff;transform:scaleX(1.0588);">Matemática</div>
<div id="s2b_1" class="t" style="position:absolute;top:835.18px;font-size:32.8px;line-height:32.8px;font-weight:700;color:#231f20;font-style:normal;font-family:'Liberation Sans', Arial, sans-serif;white-space:nowrap;right:1160.40px;transform-origin:100% 0;-webkit-text-stroke:0.5px #fff;transform:scaleX(0.9851);">y Ciencias</div>
<div id="s2b_2" class="t" style="position:absolute;top:870.48px;font-size:32.8px;line-height:32.8px;font-weight:700;color:#231f20;font-style:normal;font-family:'Liberation Sans', Arial, sans-serif;white-space:nowrap;right:1160.39px;transform-origin:100% 0;-webkit-text-stroke:0.5px #fff;transform:scaleX(0.9966);">Naturales</div>
<div id="s2_0" class="t" style="position:absolute;top:913.88px;font-size:32.9px;line-height:32.9px;font-weight:400;color:#231f20;font-style:normal;font-family:'Liberation Sans', Arial, sans-serif;white-space:nowrap;right:1159.04px;transform-origin:100% 0;-webkit-text-stroke:0.45px #fff;transform:scaleX(0.9759);">El Parque</div>
<div id="s2_1" class="t" style="position:absolute;top:949.68px;font-size:32.9px;line-height:32.9px;font-weight:400;color:#231f20;font-style:normal;font-family:'Liberation Sans', Arial, sans-serif;white-space:nowrap;right:1159.99px;transform-origin:100% 0;-webkit-text-stroke:0.45px #fff;transform:scaleX(1.0137);">Nacional Yasuní</div>
<div id="s2_2" class="t" style="position:absolute;top:985.58px;font-size:32.9px;line-height:32.9px;font-weight:400;color:#231f20;font-style:normal;font-family:'Liberation Sans', Arial, sans-serif;white-space:nowrap;right:1158.98px;transform-origin:100% 0;-webkit-text-stroke:0.45px #fff;transform:scaleX(1.0116);">es Patrimonio</div>
<div id="s2_3" class="t" style="position:absolute;top:1022.08px;font-size:32.9px;line-height:32.9px;font-weight:400;color:#231f20;font-style:normal;font-family:'Liberation Sans', Arial, sans-serif;white-space:nowrap;right:1161.02px;transform-origin:100% 0;-webkit-text-stroke:0.45px #fff;transform:scaleX(1.0465);">Natural de la</div>
<div id="s2_4" class="t" style="position:absolute;top:1058.38px;font-size:32.9px;line-height:32.9px;font-weight:400;color:#231f20;font-style:normal;font-family:'Liberation Sans', Arial, sans-serif;white-space:nowrap;right:1155.77px;transform-origin:100% 0;-webkit-text-stroke:0.45px #fff;transform:scaleX(1.0767);">Humanidad.</div>
<div id="s2_5" class="t" style="position:absolute;top:1094.38px;font-size:32.9px;line-height:32.9px;font-weight:400;color:#231f20;font-style:normal;font-family:'Liberation Sans', Arial, sans-serif;white-space:nowrap;right:1159.99px;transform-origin:100% 0;-webkit-text-stroke:0.45px #fff;transform:scaleX(1.0241);">Tiene alrededor</div>
<div id="s2_6" class="t" style="position:absolute;top:1130.08px;font-size:32.9px;line-height:32.9px;font-weight:400;color:#231f20;font-style:normal;font-family:'Liberation Sans', Arial, sans-serif;white-space:nowrap;right:1159.01px;transform-origin:100% 0;-webkit-text-stroke:0.45px #fff;transform:scaleX(0.9939);">de 2 000 + 200 +</div>
<div id="s2_7" class="t" style="position:absolute;top:1165.98px;font-size:32.9px;line-height:32.9px;font-weight:400;color:#231f20;font-style:normal;font-family:'Liberation Sans', Arial, sans-serif;white-space:nowrap;right:1160.00px;transform-origin:100% 0;-webkit-text-stroke:0.45px #fff;transform:scaleX(1.0057);">40 + 4 especies</div>
<div id="s2_8" class="t" style="position:absolute;top:1202.28px;font-size:32.9px;line-height:32.9px;font-weight:400;color:#231f20;font-style:normal;font-family:'Liberation Sans', Arial, sans-serif;white-space:nowrap;right:1161.01px;transform-origin:100% 0;-webkit-text-stroke:0.45px #fff;transform:scaleX(1.0285);">de árboles y</div>
<div id="s2_9" class="t" style="position:absolute;top:1238.38px;font-size:32.9px;line-height:32.9px;font-weight:400;color:#231f20;font-style:normal;font-family:'Liberation Sans', Arial, sans-serif;white-space:nowrap;right:1155.96px;transform-origin:100% 0;-webkit-text-stroke:0.45px #fff;transform:scaleX(1.0130);">arbustos.</div>
<div id="s2_10" class="t" style="position:absolute;top:1281.98px;font-size:32.9px;line-height:32.9px;font-weight:400;color:#231f20;font-style:normal;font-family:'Liberation Sans', Arial, sans-serif;white-space:nowrap;right:1159.03px;transform-origin:100% 0;-webkit-text-stroke:0.45px #fff;transform:scaleX(0.9809);">Las TIC te darán</div>
<div id="s2_11" class="t" style="position:absolute;top:1317.98px;font-size:32.9px;line-height:32.9px;font-weight:400;color:#231f20;font-style:normal;font-family:'Liberation Sans', Arial, sans-serif;white-space:nowrap;right:1159.98px;transform-origin:100% 0;-webkit-text-stroke:0.45px #fff;transform:scaleX(1.0470);">más datos</div>
<div id="s2_12" class="t" style="position:absolute;top:1353.58px;font-size:32.9px;line-height:32.9px;font-weight:400;color:#231f20;font-style:normal;font-family:'Liberation Sans', Arial, sans-serif;white-space:nowrap;right:1158.90px;transform-origin:100% 0;-webkit-text-stroke:0.45px #fff;transform:scaleX(1.0648);">acerca de este</div>
<div id="s2_13" class="t" style="position:absolute;top:1389.38px;font-size:32.9px;line-height:32.9px;font-weight:400;color:#231f20;font-style:normal;font-family:'Liberation Sans', Arial, sans-serif;white-space:nowrap;right:1155.89px;transform-origin:100% 0;-webkit-text-stroke:0.45px #fff;transform:scaleX(1.0359);">maravilloso lugar.</div>
<div id="lynk" class="t" style="position:absolute;top:1425.38px;font-size:32.9px;line-height:32.9px;font-weight:400;color:#1ba1db;font-style:italic;font-family:'Liberation Sans', Arial, sans-serif;white-space:nowrap;right:1159.80px;transform-origin:100% 0;-webkit-text-stroke:0.45px #fff;transform:scaleX(1.0188);">lynk.ec/3mt25</div>
<div id="mp_0" class="t" style="position:absolute;top:267.05px;font-size:37.8px;line-height:37.8px;font-weight:400;color:#231f20;font-style:normal;font-family:'Liberation Sans', Arial, sans-serif;white-space:nowrap;left:440.83px;transform-origin:0 0;-webkit-text-stroke:0.5px #f9f0e0;transform:scaleX(1.0691);">El valor posicional de cada dígito está dado por la</div>
<div id="mp_1" class="t" style="position:absolute;top:310.25px;font-size:37.8px;line-height:37.8px;font-weight:400;color:#231f20;font-style:normal;font-family:'Liberation Sans', Arial, sans-serif;white-space:nowrap;left:440.82px;transform-origin:0 0;-webkit-text-stroke:0.5px #f9f0e0;transform:scaleX(1.0713);">posición o el lugar que ocupa al formar el número.</div>
<div id="mp_2" class="t" style="position:absolute;top:367.25px;font-size:37.8px;line-height:37.8px;font-weight:400;color:#231f20;font-style:normal;font-family:'Liberation Sans', Arial, sans-serif;white-space:nowrap;left:441.91px;transform-origin:0 0;-webkit-text-stroke:0.5px #f9f0e0;transform:scaleX(1.0626);">Observa cómo se ubican las unidades de mil puras</div>
<div id="mp_3" class="t" style="position:absolute;top:411.25px;font-size:37.8px;line-height:37.8px;font-weight:400;color:#231f20;font-style:normal;font-family:'Liberation Sans', Arial, sans-serif;white-space:nowrap;left:441.90px;transform-origin:0 0;-webkit-text-stroke:0.5px #f9f0e0;transform:scaleX(1.0687);">o exactas en la tabla posicional.</div>
<div id="mp_4" class="t" style="position:absolute;top:977.25px;font-size:37.8px;line-height:37.8px;font-weight:400;color:#231f20;font-style:normal;font-family:'Liberation Sans', Arial, sans-serif;white-space:nowrap;left:440.86px;transform-origin:0 0;-webkit-text-stroke:0.5px #f9f0e0;transform:scaleX(1.0569);">Para saber cuántas especies de plantas tiene el</div>
<div id="mp_5" class="t" style="position:absolute;top:1020.25px;font-size:37.8px;line-height:37.8px;font-weight:400;color:#231f20;font-style:normal;font-family:'Liberation Sans', Arial, sans-serif;white-space:nowrap;left:441.97px;transform-origin:0 0;-webkit-text-stroke:0.5px #f9f0e0;transform:scaleX(1.0198);">Yasuní, entre árboles y arbustos, debemos sumar</div>
<div id="mp_6" class="t" style="position:absolute;top:1063.25px;font-size:37.8px;line-height:37.8px;font-weight:400;color:#231f20;font-style:normal;font-family:'Liberation Sans', Arial, sans-serif;white-space:nowrap;left:441.98px;transform-origin:0 0;-webkit-text-stroke:0.5px #f9f0e0;transform:scaleX(1.0122);">2 000 + 200 + 40 + 4. Observa este proceso que se</div>
<div id="mp_7" class="t" style="position:absolute;top:1106.25px;font-size:37.8px;line-height:37.8px;font-weight:400;color:#231f20;font-style:normal;font-family:'Liberation Sans', Arial, sans-serif;white-space:nowrap;left:441.86px;transform-origin:0 0;-webkit-text-stroke:0.5px #f9f0e0;transform:scaleX(1.0914);">conoce como composición de un número:</div>
<div id="eq" class="t" style="position:absolute;top:1444.88px;font-size:38.6px;line-height:38.6px;font-weight:400;color:#231f20;font-style:normal;font-family:'Liberation Sans', Arial, sans-serif;white-space:nowrap;left:643.06px;transform-origin:0 0;-webkit-text-stroke:0.5px #fff;transform:scaleX(0.9677);">2 000 + 200 + 40 + 4 = 2 244</div>
<div id="esc" class="t" style="position:absolute;top:1519.43px;font-size:38.3px;line-height:38.3px;font-weight:400;color:#231f20;font-style:normal;font-family:'Liberation Sans', Arial, sans-serif;white-space:nowrap;left:132.92px;transform-origin:0 0;-webkit-text-stroke:0.5px #f9f0e0;transform:scaleX(1.0302);">Escribimos el valor posicional del número resaltado.</div>
<div id="f168" class="t" style="position:absolute;top:1934.66px;font-size:33.6px;line-height:33.6px;font-weight:700;color:#6d6e71;font-style:normal;font-family:'Liberation Sans', Arial, sans-serif;white-space:nowrap;left:103.89px;transform-origin:0 0;-webkit-text-stroke:1.0px #6d6e71;transform:scaleX(1.1127);">168</div>
<div id="fmat" class="t" style="position:absolute;top:1935.95px;font-size:20.2px;line-height:20.2px;font-weight:400;color:#666769;font-style:normal;font-family:'Liberation Sans', Arial, sans-serif;white-space:nowrap;left:183.19px;transform-origin:0 0;-webkit-text-stroke:0.3px #fff;transform:scaleX(1.2417);">Matemática</div>
<div id="fegb" class="t" style="position:absolute;top:1959.45px;font-size:20.2px;line-height:20.2px;font-weight:400;color:#666769;font-style:normal;font-family:'Liberation Sans', Arial, sans-serif;white-space:nowrap;left:184.54px;transform-origin:0 0;-webkit-text-stroke:0.3px #fff;transform:scaleX(1.0746);">3.º EGB</div>
<div id="fm1" class="t" style="position:absolute;top:1911.19px;font-size:18.8px;line-height:18.8px;font-weight:400;color:#d6358f;font-style:normal;font-family:'Liberation Sans', Arial, sans-serif;white-space:nowrap;left:450.21px;transform-origin:0 0;-webkit-text-stroke:0.2px #fff;transform:scaleX(0.9535);"><b style="color:#d0107c;letter-spacing:1.4px;-webkit-text-stroke:0.5px #d0107c">M.2.1.14.</b> Reconocer el valor posicional de números naturales de hasta cuatro cifras, basándose en la composición</div>
<div id="fm2" class="t" style="position:absolute;top:1934.99px;font-size:18.8px;line-height:18.8px;font-weight:400;color:#d6358f;font-style:normal;font-family:'Liberation Sans', Arial, sans-serif;white-space:nowrap;left:451.18px;transform-origin:0 0;-webkit-text-stroke:0.2px #fff;transform:scaleX(0.9814);">y descomposición de unidades, decenas, centenas y unidades de mil, mediante el uso de material concreto y con</div>
<div id="fm3" class="t" style="position:absolute;top:1957.69px;font-size:18.8px;line-height:18.8px;font-weight:400;color:#d6358f;font-style:normal;font-family:'Liberation Sans', Arial, sans-serif;white-space:nowrap;left:450.20px;transform-origin:0 0;-webkit-text-stroke:0.2px #fff;transform:scaleX(0.9877);">representación simbólica.</div>
</body></html>
